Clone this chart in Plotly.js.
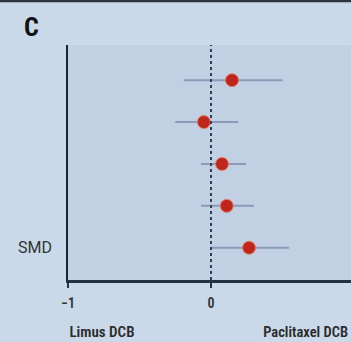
<!DOCTYPE html>
<html><head><meta charset="utf-8">
<script src="https://cdn.plot.ly/plotly-3.0.1.min.js"></script>
<style>html,body{margin:0;padding:0;background:#c9d9ea;}#c{width:351px;height:342px;}</style>
</head><body><div id="c"></div>
<script>
const studies = [1, 2, 3, 4, 5];
const smd = [0.147, -0.05, 0.077, 0.11, 0.266];
const lower = [-0.19, -0.25, -0.07, -0.07, 0.0];
const upper = [0.50, 0.19, 0.245, 0.30, 0.545];
const xTicks = [-1, 0];
const xTickText = ['\u22121', '0'];

const cond = 'Roboto, "Liberation Sans", sans-serif';

const trace = {
  type: 'scatter', mode: 'markers',
  x: smd, y: studies,
  error_x: {
    type: 'data', symmetric: false,
    array: smd.map((v, i) => upper[i] - v),
    arrayminus: smd.map((v, i) => v - lower[i]),
    color: '#8b9cbb', thickness: 2, width: 0
  },
  marker: {color: '#c1261c', size: 13, line: {color: '#e0806a', width: 1}},
  hoverinfo: 'skip', showlegend: false
};

const layout = {
  width: 351, height: 342,
  margin: {l: 68, r: 0, t: 45, b: 62},
  paper_bgcolor: '#c9d9ea', plot_bgcolor: '#c1d0e3',
  xaxis: {
    range: [-1, 0.979], tickvals: xTicks, ticktext: xTickText,
    showgrid: false, zeroline: false, showline: true, linecolor: '#233241', linewidth: 2.5,
    ticks: 'outside', ticklen: 5, tickcolor: '#233241', tickwidth: 1.5,
    ticklabelstandoff: 4,
    tickfont: {family: cond, size: 14, color: '#333', weight: 600}, fixedrange: true
  },
  yaxis: {
    range: [5.77, 0.16], showticklabels: false, showgrid: false, zeroline: false,
    showline: true, linecolor: '#1a2530', linewidth: 2, ticks: '', fixedrange: true
  },
  shapes: [
    {type: 'line', xref: 'x', yref: 'paper', x0: 0, x1: 0, y0: 0, y1: 1,
     line: {color: '#2f3f58', width: 2, dash: 'dot'}},
    {type: 'rect', xref: 'paper', yref: 'paper', x0: -0.3, x1: 1.1, y0: 1.182, y1: 1.25,
     fillcolor: '#2b3540', line: {width: 0}}
  ],
  annotations: [
    {text: '<b>C</b>', xref: 'paper', yref: 'paper', x: -0.165, y: 1.077, xanchor: 'left', yanchor: 'middle',
     showarrow: false, font: {family: cond, size: 26, color: '#111'}},
    {text: 'SMD', xref: 'paper', yref: 'y', x: -0.05, y: 5, xanchor: 'right', yanchor: 'middle',
     showarrow: false, font: {family: 'Roboto, "Liberation Sans", sans-serif', size: 16, color: '#333'}},
    {text: 'Limus DCB', xref: 'x', yref: 'paper', x: -0.76, y: -0.222, xanchor: 'center', yanchor: 'middle',
     showarrow: false, font: {family: cond, size: 15, color: '#2a2a2a', weight: 600}},
    {text: 'Paclitaxel DCB', xref: 'x', yref: 'paper', x: 0.318, y: -0.222, xanchor: 'left', yanchor: 'middle',
     showarrow: false, font: {family: cond, size: 14.5, color: '#2a2a2a', weight: 600}}
  ]
};

Plotly.newPlot('c', [trace], layout, {displayModeBar: false, staticPlot: true}).then(function () {
  document.querySelectorAll('#c .annotation-text, #c .xtick text').forEach(function (t) {
    if (t.textContent !== 'SMD') { t.style.fontStretch = '75%'; }
  });
});
</script>
</body></html>
